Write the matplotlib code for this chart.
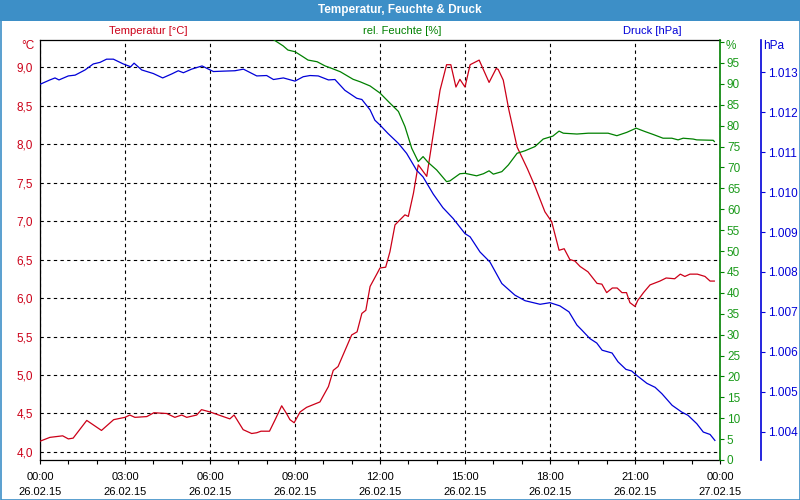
import numpy as np
import matplotlib
matplotlib.use("Agg")
import matplotlib.pyplot as plt
from matplotlib.ticker import FuncFormatter, MultipleLocator, FixedLocator
from matplotlib.patches import Rectangle

# temperature [°C], hours since 26.02.15 00:00
temp_hours = [0.0, 0.35, 0.8, 1.0, 1.17, 1.65, 2.17, 2.6, 3.0, 3.17, 3.35, 3.77, 4.02, 4.47,
              4.76, 5.0, 5.18, 5.53, 5.7, 6.0, 6.7, 6.85, 7.17, 7.47, 7.65, 7.8, 8.1, 8.3,
              8.53, 8.7, 8.82, 8.97, 9.18, 9.41, 9.88, 10.18, 10.35, 10.52, 11.0, 11.19,
              11.36, 11.5, 11.65, 11.9, 12.0, 12.2, 12.35, 12.53, 12.88, 13.0, 13.18, 13.35,
              13.65, 14.12, 14.35, 14.5, 14.68, 14.82, 15.0, 15.18, 15.5, 15.85, 16.1, 16.17,
              16.35, 16.55, 16.84, 17.2, 17.47, 17.82, 18.06, 18.32, 18.5, 18.7, 18.88, 19.06,
              19.34, 19.66, 19.83, 20.0, 20.2, 20.37, 20.54, 20.7, 20.82, 21.0, 21.1, 21.3,
              21.53, 21.88, 22.1, 22.4, 22.6, 22.76, 22.94, 23.2, 23.47, 23.65, 23.8]
temp_values = [4.14, 4.19, 4.21, 4.17, 4.18, 4.41, 4.28, 4.42, 4.45, 4.48, 4.45, 4.46, 4.51, 4.50,
               4.45, 4.48, 4.45, 4.48, 4.55, 4.52, 4.43, 4.48, 4.29, 4.24, 4.25, 4.27, 4.27, 4.42,
               4.60, 4.50, 4.42, 4.38, 4.52, 4.58, 4.65, 4.85, 5.06, 5.11, 5.52, 5.56,
               5.80, 5.84, 6.15, 6.32, 6.39, 6.40, 6.60, 6.95, 7.08, 7.06, 7.36, 7.73,
               7.58, 8.70, 9.03, 9.03, 8.74, 8.84, 8.74, 9.03, 9.09, 8.80, 8.98, 8.97,
               8.83, 8.44, 7.96, 7.68, 7.45, 7.12, 6.99, 6.62, 6.64, 6.50, 6.48, 6.41,
               6.34, 6.19, 6.18, 6.07, 6.13, 6.13, 6.07, 6.07, 5.94, 5.89, 5.97, 6.07,
               6.17, 6.22, 6.26, 6.25, 6.31, 6.28, 6.31, 6.31, 6.28, 6.22, 6.22]

# relative humidity [%]
hum_hours = [8.1, 8.26, 8.58, 8.75, 9.0, 9.28, 9.46, 9.78, 10.06, 10.3, 10.6, 11.05, 11.3,
             11.65, 12.0, 12.35, 12.65, 12.88, 13.12, 13.35, 13.52, 13.7, 14.0, 14.35, 14.47,
             14.82, 15.0, 15.41, 15.65, 15.85, 16.0, 16.3, 16.53, 16.84, 17.12, 17.47, 17.76,
             18.1, 18.32, 18.47, 18.95, 19.35, 20.05, 20.36, 20.71, 21.04, 21.35, 21.64, 21.99,
             22.3, 22.52, 22.7, 23.05, 23.18, 23.76, 23.8]
hum_values = [101.5, 100.5, 99.1, 98.1, 97.7, 96.5, 95.7, 95.3, 94.3, 93.7, 92.9, 91.1, 90.5,
              89.5, 87.8, 85.4, 83.4, 79.8, 74.6, 71.4, 72.6, 71.2, 69.4, 66.6, 66.8,
              68.5, 68.6, 68.0, 68.5, 69.2, 68.4, 69.0, 70.6, 73.4, 74.0, 75.0, 76.8,
              77.5, 78.7, 78.2, 78.0, 78.2, 78.2, 77.6, 78.4, 79.4, 78.6, 77.9, 77.0,
              77.0, 76.6, 77.0, 76.8, 76.6, 76.5, 76.2]

# air pressure [hPa]
press_hours = [0.0, 0.35, 0.53, 0.67, 1.0, 1.24, 1.59, 1.88, 2.12, 2.35, 2.59, 2.94, 3.2, 3.32,
               3.59, 4.0, 4.33, 4.65, 4.88, 5.06, 5.35, 5.72, 6.12, 6.47, 6.88, 7.18, 7.65,
               8.0, 8.24, 8.59, 9.0, 9.29, 9.53, 9.82, 10.18, 10.41, 10.76, 11.18, 11.36,
               11.65, 11.82, 12.0, 12.28, 12.65, 12.94, 13.29, 13.52, 13.88, 14.22, 14.58,
               15.0, 15.18, 15.53, 15.88, 16.3, 16.76, 17.12, 17.65, 18.0, 18.35, 18.67,
               18.95, 19.13, 19.41, 19.65, 19.84, 20.19, 20.4, 20.68, 20.88, 21.06, 21.42,
               21.71, 21.95, 22.31, 22.65, 22.87, 23.18, 23.41, 23.65, 23.82]
press_values = [1012.70, 1012.81, 1012.86, 1012.81, 1012.91, 1012.93, 1013.06, 1013.21, 1013.25,
                1013.33, 1013.33, 1013.21, 1013.14, 1013.23, 1013.06, 1012.97, 1012.86, 1012.96,
                1013.04, 1012.99, 1013.08, 1013.16, 1013.02, 1013.03, 1013.04, 1013.08, 1012.91,
                1012.92, 1012.82, 1012.86, 1012.78, 1012.89, 1012.92, 1012.91, 1012.81, 1012.82,
                1012.55, 1012.35, 1012.32, 1012.06, 1011.80, 1011.68, 1011.47, 1011.22, 1010.97,
                1010.55, 1010.38, 1009.95, 1009.61, 1009.34, 1008.96, 1008.88, 1008.50, 1008.25,
                1007.71, 1007.42, 1007.28, 1007.19, 1007.23, 1007.15, 1007.0, 1006.67, 1006.54,
                1006.33, 1006.22, 1006.04, 1005.97, 1005.75, 1005.56, 1005.52, 1005.41, 1005.21,
                1005.11, 1004.95, 1004.66, 1004.49, 1004.41, 1004.20, 1003.99, 1003.93, 1003.78]

x_tick_hours = [0, 3, 6, 9, 12, 15, 18, 21, 24]
x_tick_labels = ["00:00\n26.02.15", "03:00\n26.02.15", "06:00\n26.02.15", "09:00\n26.02.15",
                 "12:00\n26.02.15", "15:00\n26.02.15", "18:00\n26.02.15", "21:00\n26.02.15",
                 "00:00\n27.02.15"]

RED = "#cc0018"
GREEN = "#008000"
BLUE = "#0000d8"
FRAME = "#3d8fc7"

plt.rcParams["font.family"] = ["Liberation Sans", "DejaVu Sans"]
plt.rcParams["font.size"] = 8

fig = plt.figure(figsize=(8, 5), dpi=100)
fig.patch.set_facecolor("white")

# title bar and outer frame
fig.patches.append(Rectangle((0, 1 - 21 / 500), 1, 21 / 500, transform=fig.transFigure,
                             facecolor=FRAME, edgecolor="none", zorder=0))
fig.patches.append(Rectangle((0.5 / 800, 0.5 / 500), 1 - 1 / 800, 1 - 1 / 500,
                             transform=fig.transFigure, fill=False, edgecolor=FRAME, lw=1.2))
fig.text(0.5, 1 - 10.5 / 500, "Temperatur, Feuchte & Druck", color="white",
         fontweight="bold", ha="center", va="center", fontsize=8.5)

ax = fig.add_axes([40 / 800, 40 / 500, 680 / 800, 420 / 500])
ax_h = ax.twinx()
ax_p = ax.twinx()

ax.plot(temp_hours, temp_values, color=RED, lw=0.9, zorder=3)
ax_h.plot(hum_hours, hum_values, color=GREEN, lw=0.9)
ax_p.plot(press_hours, press_values, color=BLUE, lw=0.9)

ax.set_xlim(0, 24)
ax.set_ylim(3.896, 9.351)
ax_h.set_ylim(0, 100.5)
ax_p.set_ylim(1003.29, 1013.81)

# x axis
ax.xaxis.set_major_locator(FixedLocator(x_tick_hours))
ax.set_xticklabels(x_tick_labels, linespacing=1.55)
ax.xaxis.set_minor_locator(MultipleLocator(1))
ax.tick_params(axis="x", which="both", direction="out", length=3, width=0.8, color="black",
               labelcolor="black", pad=6)

# temperature axis
ax.yaxis.set_major_locator(MultipleLocator(0.5))
ax.yaxis.set_major_formatter(FuncFormatter(lambda v, p: f"{v:.1f}".replace(".", ",")))
ax.tick_params(axis="y", length=0, pad=5, labelcolor=RED, labelsize=8.5)
ax.grid(True, which="major", color="black", linestyle=(0, (3, 3)), lw=0.8)
ax.set_axisbelow(True)
for s in ["left", "bottom", "top"]:
    ax.spines[s].set_color("black")
    ax.spines[s].set_linewidth(0.9)
ax.spines["right"].set_visible(False)

# humidity axis
ax_h.yaxis.set_major_locator(MultipleLocator(5))
ax_h.yaxis.set_major_formatter(FuncFormatter(lambda v, p: f"{v:.0f}" if v <= 95 else ""))
ax_h.tick_params(axis="y", length=3, width=0.8, color=GREEN, labelcolor="#1a9a1a", pad=2,
                 labelsize=8.5)
ax_h.spines["right"].set_color(GREEN)
ax_h.spines["right"].set_linewidth(1.2)
for s in ["left", "top", "bottom"]:
    ax_h.spines[s].set_visible(False)

# pressure axis
ax_p.spines["right"].set_position(("outward", 41 * 72 / 100))
ax_p.yaxis.set_major_locator(MultipleLocator(1))
ax_p.yaxis.set_major_formatter(FuncFormatter(lambda v, p: f"1.{int(round(v - 1000)):03d}"))
ax_p.tick_params(axis="y", length=3, width=0.8, color=BLUE, labelcolor=BLUE, pad=2,
                 labelsize=8.5)
ax_p.spines["right"].set_color(BLUE)
ax_p.spines["right"].set_linewidth(1.2)
for s in ["left", "top", "bottom"]:
    ax_p.spines[s].set_visible(False)

# unit labels and series names
fig.text(28 / 800, 1 - 46 / 500, "°C", color=RED, ha="center", va="center", fontsize=8.5)
fig.text(731 / 800, 1 - 46 / 500, "%", color="#1a9a1a", ha="center", va="center", fontsize=8.5)
fig.text(774 / 800, 1 - 46 / 500, "hPa", color=BLUE, ha="center", va="center", fontsize=8.5)
fig.text(148 / 800, 1 - 31 / 500, "Temperatur [°C]", color=RED, ha="center", va="center")
fig.text(402 / 800, 1 - 31 / 500, "rel. Feuchte [%]", color=GREEN, ha="center", va="center")
fig.text(652 / 800, 1 - 31 / 500, "Druck [hPa]", color=BLUE, ha="center", va="center")

fig.savefig("out.png", dpi=100)
